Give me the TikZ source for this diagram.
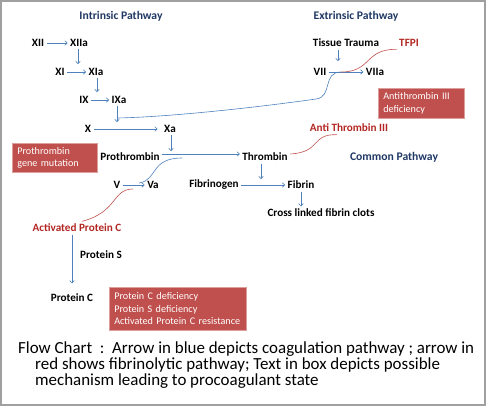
\documentclass[tikz,border=0pt]{standalone}
\usepackage{fontspec}
\setmainfont{Carlito}
\usetikzlibrary{arrows.meta}
\definecolor{pathblue}{RGB}{79,129,189}
\definecolor{lyticred}{RGB}{192,80,77}
\definecolor{labelred}{RGB}{178,38,34}
\definecolor{titlenavy}{RGB}{31,56,100}
\definecolor{framegray}{RGB}{160,160,160}

\begin{document}
\begin{tikzpicture}[x=1bp,y=-1bp,
  factor/.style={font=\fontsize{11.2}{13}\selectfont\bfseries,inner sep=2.5bp},
  title/.style={factor,font=\fontsize{11.7}{13}\selectfont\bfseries,text=titlenavy},
  redlabel/.style={factor,text=labelred},
  flow/.style={draw=pathblue,line width=.6bp,-{To[length=3bp,width=5bp]}},
  cofactor/.style={draw=pathblue,line width=.6bp},
  lytic/.style={draw=lyticred,line width=.6bp},
  riskbox/.style={fill=lyticred,draw=lyticred!55!white,line width=.6bp,text=white,
    font=\fontsize{10.2}{12.5}\selectfont,align=left,anchor=north west,inner xsep=5bp,inner ysep=0pt},
  caption/.style={font=\fontsize{17}{16}\selectfont,align=left,anchor=north west,inner sep=0pt}]

\useasboundingbox (0,0) rectangle (486,406);
\draw[framegray,line width=2bp] (1,1) rectangle (485,405);

\node[title] (intr) at (121,16) {Intrinsic Pathway};
\node[title] (extr) at (356,16) {Extrinsic Pathway};
\node[title] (comm) at (394,157) {Common Pathway};

\foreach \name/\px/\py/\txt in
  {xii/38/43/XII, xiia/79/43/XIIa, xi/60/72/XI, xia/96/72/XIa, ix/84/100/IX, ixa/119/100/IXa,%
   x/88/129/X, xa/170/129/Xa, pro/130/157/Prothrombin, thr/265/157/Thrombin,%
   v/117/185/V, va/153/185/Va, fbg/214/185/Fibrinogen, fbn/301/185/Fibrin,%
   clot/321/213/Cross linked fibrin clots, trauma/346/43/Tissue Trauma,%
   vii/320/72/VII, viia/375/72/VIIa, ps/101/255/Protein S, pc/72/298/Protein C}
    \node[factor] (\name) at (\px,\py) {\txt};

\node[redlabel] (tfpi) at (409,43) {TFPI};
\node[redlabel] (at3) at (349,128) {Anti Thrombin III};
\node[redlabel] (apc) at (77,228) {Activated Protein C};

\node[riskbox,text width=75bp,minimum height=29bp] (pgm) at (12,143) {Prothrombin\\gene mutation};
\node[riskbox,text width=76bp,minimum height=30bp] (atd) at (378,88) {Antithrombin III\\deficiency};
\node[riskbox,text width=127bp,minimum height=43bp] (pcd) at (109,287)
  {Protein C deficiency\\Protein S deficiency\\Activated Protein C resistance};

\coordinate (toXI) at (78,64);
\coordinate (toIX) at (97,92);
\coordinate (toX) at (117,122);
\coordinate (ixaJoin) at (117,118);
\coordinate (toPro) at (171,151);
\coordinate (toFbg) at (261,179);
\coordinate (toVII) at (338,61);
\coordinate (onVII) at (341,72);
\coordinate (onV) at (139,183);
\coordinate (belowV) at (133,189);
\coordinate (nearPro) at (182,158);

\draw[flow] (xii) -- (xiia);
\draw[flow] (xi) -- (xia);
\draw[flow] (ix) -- (ixa);
\draw[flow,shorten >=4bp] (x) -- (xa);
\draw[flow] ([yshift=3bp]pro.east) -- ([yshift=3bp]thr.west);
\draw[flow] (v) -- (va);
\draw[flow] (fbg) -- (fbn);
\draw[flow] (vii) -- (viia);

\draw[flow] (xiia.south -| toXI) -- (toXI);
\draw[flow] (xia.south -| toIX) -- (toIX);
\draw[flow] (ixa.south -| toX) -- (toX);
\draw[flow] (xa.south -| toPro) -- (toPro);
\draw[flow] (thr.south -| toFbg) -- (toFbg);
\draw[flow] (trauma.south -| toVII) -- (toVII);
\draw[flow] (fbn.south) -- (fbn.south |- clot.north);
\draw[flow,shorten >=8bp] (apc.south -| pc.north) -- (pc.north);

\draw[cofactor] (onVII) .. controls (322,72) and (333,97) .. (316,99)
  .. controls (260,107) and (170,117) .. (ixaJoin);
\draw[cofactor] (onV) .. controls (158,180) and (150,158) .. (nearPro);

\draw[lytic] (tfpi.south west) .. controls (364,49) and (372,72) .. (onVII);
\draw[lytic] ([yshift=3bp]thr.east) .. controls (322,152) and (310,134) .. ([xshift=-12bp]at3.south);
\draw[lytic] ([xshift=5bp]apc.north) .. controls (118,212) and (112,189) .. (belowV);

\node[caption] (cap) at (18,342)
  {Flow Chart\ \ :\ \ Arrow in blue depicts coagulation pathway ; arrow in\\
   \hspace*{17bp}red shows fibrinolytic pathway; Text in box depicts possible\\
   \hspace*{17bp}mechanism leading to procoagulant state};
\end{tikzpicture}
\end{document}
